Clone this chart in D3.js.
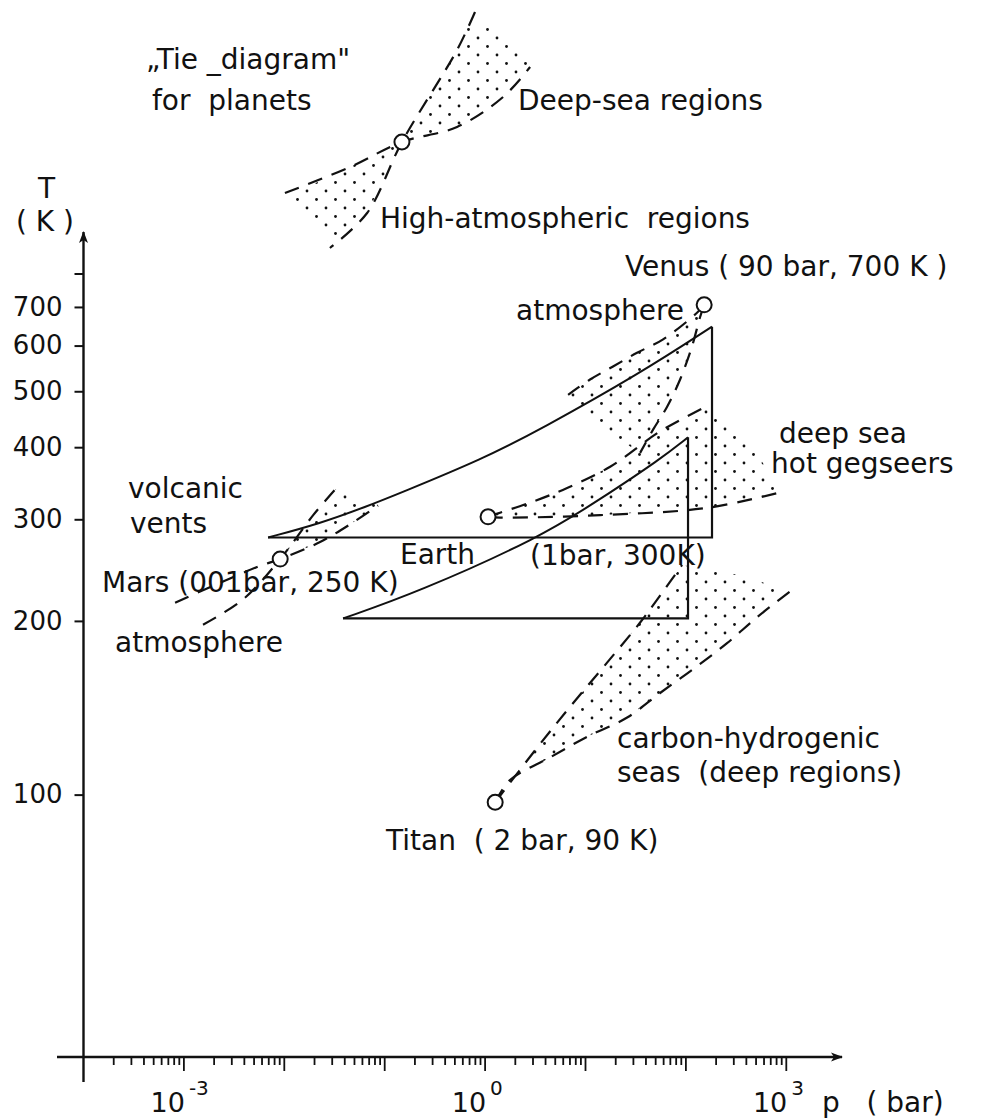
<!DOCTYPE html>
<html>
<head>
<meta charset="utf-8">
<script src="https://cdn.jsdelivr.net/npm/d3@7"></script>
<style>
  body { margin: 0; background: #fff; }
  svg { display: block; }
  text { font-family: "DejaVu Sans", sans-serif; fill: #111; white-space: pre; }
</style>
</head>
<body>
<svg width="983" height="1119"></svg>
<script>
// planets: pressure p (bar), temperature T (K)
var planets = [
  { name: "Mars",  p: 0.0091, T: 256 },
  { name: "Earth", p: 1.07,   T: 303 },
  { name: "Venus", p: 152,    T: 706 },
  { name: "Titan", p: 1.26,   T: 97 }
];

// upper solid curve (Mars -> Venus) and its triangle
var upperCurve = [[0.0069, 279], [0.0227, 295], [0.0668, 316], [0.142, 333], [0.955, 382], [3.53, 429], [35.0, 537], [182, 647]];
// lower solid curve and its triangle
var lowerCurve = [[0.0385, 202], [0.210, 224], [3.53, 279], [14.0, 325], [55.3, 381], [105, 416]];

// tie lines (dashed)
var marsSteep   = [[0.00155, 197], [0.00389, 218], [0.0091, 256], [0.0194, 305], [0.0321, 338]];
var marsShallow = [[0.000817, 215], [0.00536, 248], [0.0091, 256], [0.0227, 274], [0.0452, 294], [0.0859, 317]];
var earthUpper  = [[1.07, 303], [1.41, 308], [3.01, 322], [6.56, 340], [17.6, 370], [55.3, 426], [174, 474]];
var earthLower  = [[1.07, 303], [1.41, 302], [14.0, 305], [163, 314], [867, 334]];
var venusUpper  = [[152, 706], [129, 684], [59.3, 615], [32.6, 583], [18.8, 552], [11.1, 524], [6.71, 493]];
var venusSteep  = [[152, 706], [138, 671], [115, 598], [87.5, 524], [65.0, 470], [47.1, 429], [35.0, 391]];
var titanSteep  = [[1.26, 97], [3.30, 120.6], [7.03, 142], [16.4, 169.3], [35.0, 198.7], [55.3, 221.3], [91.6, 250]];
var titanLower  = [[1.26, 97], [1.77, 106], [4.44, 116], [10.4, 126], [26.0, 136], [55.3, 150], [118, 165], [257, 183], [512, 203], [1091, 225]];

// open edges of the dotted regions
var marsEdge  = [];
var earthEdge = [[400, 420]];
var venusEdge = [[12.5, 440]];
var titanEdge = [[350, 240], [800, 229]];

// inset "tie diagram" in its own 0..100 units
var insetSteep   = [[75.0, 95.2], [68.1, 80.0], [46.9, 43.2], [33.5, 14.8], [19.2, 0.8]];
var insetShallow = [[1.9, 22.8], [26.9, 33.2], [46.9, 43.2], [68.1, 49.2], [85.8, 61.2], [96.2, 73.2]];
var insetUpperDots = [[46.9, 43.2], [68.1, 80], [72, 90], [82, 89], [91, 83], [96.2, 73.2], [85.8, 61.2], [68.1, 49.2]];
var insetLowerDots = [[46.9, 43.2], [26.9, 33.2], [3.8, 22], [9.6, 15.2], [15.4, 7.2], [20, 1.6], [33.5, 14.8]];
var insetPlanet = [46.9, 43.2];

var yTicks = [100, 200, 300, 400, 500, 600, 700, 800];
var xLabelTicks = [{ v: 1e-3, exp: "-3" }, { v: 1, exp: "0" }, { v: 1e3, exp: "3" }];

var svg = d3.select("svg");

var x = d3.scaleLog().domain([1e-4, 1e3]).range([83.5, 786.3]);
var y = d3.scaleLog().domain([35.1, 944]).range([1057, 232]);

var ix = d3.scaleLinear().domain([0, 100]).range([280, 540]);
var iy = d3.scaleLinear().domain([0, 100]).range([250, 0]);

// stipple pattern
var defs = svg.append("defs");
var pat = defs.append("pattern")
  .attr("id", "dots")
  .attr("patternUnits", "userSpaceOnUse")
  .attr("width", 19).attr("height", 17);
pat.append("circle").attr("cx", 3).attr("cy", 4).attr("r", 1.4).attr("fill", "#111");
pat.append("circle").attr("cx", 12.5).attr("cy", 12.5).attr("r", 1.4).attr("fill", "#111");

defs.append("marker")
  .attr("id", "arrow")
  .attr("viewBox", "0 -5 12 10")
  .attr("refX", 11).attr("refY", 0)
  .attr("markerWidth", 12).attr("markerHeight", 10)
  .attr("markerUnits", "userSpaceOnUse")
  .attr("orient", "auto")
  .append("path")
  .attr("d", "M0,-4.5L12,0L0,4.5L3,0z")
  .attr("fill", "#111");

var line = d3.line()
  .x(function(d) { return x(d[0]); })
  .y(function(d) { return y(d[1]); });
var smooth = d3.line()
  .x(function(d) { return x(d[0]); })
  .y(function(d) { return y(d[1]); })
  .curve(d3.curveCatmullRom);
var natural = d3.line()
  .x(function(d) { return x(d[0]); })
  .y(function(d) { return y(d[1]); })
  .curve(d3.curveBasis);
var iline = d3.line()
  .x(function(d) { return ix(d[0]); })
  .y(function(d) { return iy(d[1]); })
  .curve(d3.curveCatmullRom);

// dotted regions
var regions = [
  marsSteep.slice(2).concat(marsEdge, marsShallow.slice(2).reverse()),
  earthUpper.concat(earthEdge, earthLower.slice().reverse()),
  venusUpper.concat(venusEdge, venusSteep.slice().reverse()),
  titanSteep.concat(titanEdge, titanLower.slice().reverse())
];
svg.append("g").selectAll("path")
  .data(regions)
  .enter()
  .append("path")
  .attr("d", function(d) { return line(d) + "Z"; })
  .attr("fill", "url(#dots)")
  .attr("stroke", "none");

svg.append("g").selectAll("path")
  .data([insetUpperDots, insetLowerDots])
  .enter()
  .append("path")
  .attr("d", function(d) { return d3.line().x(function(e) { return ix(e[0]); }).y(function(e) { return iy(e[1]); })(d) + "Z"; })
  .attr("fill", "url(#dots)");

// solid triangles
var tri1 = upperCurve.concat([[upperCurve[upperCurve.length - 1][0], upperCurve[0][1]]]);
var tri2 = lowerCurve.concat([[lowerCurve[lowerCurve.length - 1][0], lowerCurve[0][1]]]);
svg.append("g").selectAll("path")
  .data([upperCurve, lowerCurve])
  .enter()
  .append("path")
  .attr("d", natural)
  .attr("fill", "none")
  .attr("stroke", "#111")
  .attr("stroke-width", 2);
svg.append("g").selectAll("path")
  .data([tri1.slice(-2).concat([tri1[0]]), tri2.slice(-2).concat([tri2[0]])])
  .enter()
  .append("path")
  .attr("d", line)
  .attr("fill", "none")
  .attr("stroke", "#111")
  .attr("stroke-width", 2.2);

// dashed tie lines
svg.append("g").selectAll("path")
  .data([marsSteep, marsShallow, earthUpper, earthLower, venusUpper, venusSteep, titanSteep, titanLower])
  .enter()
  .append("path")
  .attr("d", smooth)
  .attr("fill", "none")
  .attr("stroke", "#111")
  .attr("stroke-width", 2.2)
  .attr("stroke-dasharray", "15,10");

svg.append("g").selectAll("path")
  .data([insetSteep, insetShallow])
  .enter()
  .append("path")
  .attr("d", iline)
  .attr("fill", "none")
  .attr("stroke", "#111")
  .attr("stroke-width", 2.2)
  .attr("stroke-dasharray", "15,10");

// planet circles
svg.append("g").selectAll("circle")
  .data(planets)
  .enter()
  .append("circle")
  .attr("cx", function(d) { return x(d.p); })
  .attr("cy", function(d) { return y(d.T); })
  .attr("r", 7.5)
  .attr("fill", "#fff")
  .attr("stroke", "#111")
  .attr("stroke-width", 2);
svg.append("circle")
  .attr("cx", ix(insetPlanet[0]))
  .attr("cy", iy(insetPlanet[1]))
  .attr("r", 7.5)
  .attr("fill", "#fff")
  .attr("stroke", "#111")
  .attr("stroke-width", 2);

// axes
var yAxis = d3.axisLeft(y)
  .tickValues(yTicks)
  .tickSize(9)
  .tickPadding(12)
  .tickFormat(function(d) { return d === 800 ? "" : d; });
var gy = svg.append("g").attr("transform", "translate(" + x(1e-4) + ",0)").call(yAxis);
gy.select(".domain").remove();
gy.selectAll(".tick line").attr("stroke", "#111").attr("stroke-width", 2);
gy.selectAll(".tick text")
  .style("font-family", "DejaVu Sans")
  .style("font-size", "26px")
  .attr("fill", "#111");

svg.append("line")
  .attr("x1", x(1e-4)).attr("x2", x(1e-4))
  .attr("y1", 1082).attr("y2", 232)
  .attr("stroke", "#111").attr("stroke-width", 2.4)
  .attr("marker-end", "url(#arrow)");
svg.append("line")
  .attr("x1", 57).attr("x2", 842)
  .attr("y1", y(35.1)).attr("y2", y(35.1))
  .attr("stroke", "#111").attr("stroke-width", 2.4)
  .attr("marker-end", "url(#arrow)");

var xt = x.ticks().filter(function(d) { return d > 1e-4; });
svg.append("g").selectAll("line")
  .data(xt)
  .enter()
  .append("line")
  .attr("x1", function(d) { return x(d); })
  .attr("x2", function(d) { return x(d); })
  .attr("y1", y(35.1))
  .attr("y2", function(d) {
    var m = Math.round(d / Math.pow(10, Math.floor(Math.log10(d) + 1e-9)));
    return y(35.1) + (m === 1 ? 14 : 8);
  })
  .attr("stroke", "#111")
  .attr("stroke-width", 1.8);

var xl = svg.append("g").selectAll("g")
  .data(xLabelTicks)
  .enter()
  .append("g");
xl.append("text")
  .attr("x", function(d) { return x(d.v) + 1; })
  .attr("y", 1112)
  .attr("text-anchor", "end")
  .style("font-size", "27px")
  .text("10");
xl.append("text")
  .attr("x", function(d) { return x(d.v) + 5; })
  .attr("y", 1095)
  .style("font-size", "20px")
  .text(function(d) { return d.exp; });

// labels
var labels = [
  { t: "\u201ETie _diagram\"", x: 146, y: 69 },
  { t: "for  planets", x: 152, y: 110 },
  { t: "Deep-sea regions", x: 518, y: 110 },
  { t: "High-atmospheric  regions", x: 380, y: 228 },
  { t: "T", x: 38, y: 198 },
  { t: "( K )", x: 16, y: 231 },
  { t: "Venus ( 90 bar, 700 K )", x: 625, y: 276 },
  { t: "atmosphere", x: 516, y: 320 },
  { t: "deep sea", x: 779, y: 443 },
  { t: "hot gegseers", x: 771, y: 473 },
  { t: "volcanic", x: 128, y: 498 },
  { t: "vents", x: 130, y: 533 },
  { t: "Earth", x: 400, y: 564 },
  { t: "(1bar, 300K)", x: 530, y: 565 },
  { t: "Mars (001bar, 250 K)", x: 102, y: 592 },
  { t: "atmosphere", x: 115, y: 652 },
  { t: "carbon-hydrogenic", x: 617, y: 748 },
  { t: "seas  (deep regions)", x: 617, y: 782 },
  { t: "Titan  ( 2 bar, 90 K)", x: 386, y: 850 },
  { t: "p   ( bar)", x: 822, y: 1112 }
];
svg.append("g").selectAll("text")
  .data(labels)
  .enter()
  .append("text")
  .attr("x", function(d) { return d.x; })
  .attr("y", function(d) { return d.y; })
  .style("font-size", "28px")
  .text(function(d) { return d.t; });
</script>
</body>
</html>
